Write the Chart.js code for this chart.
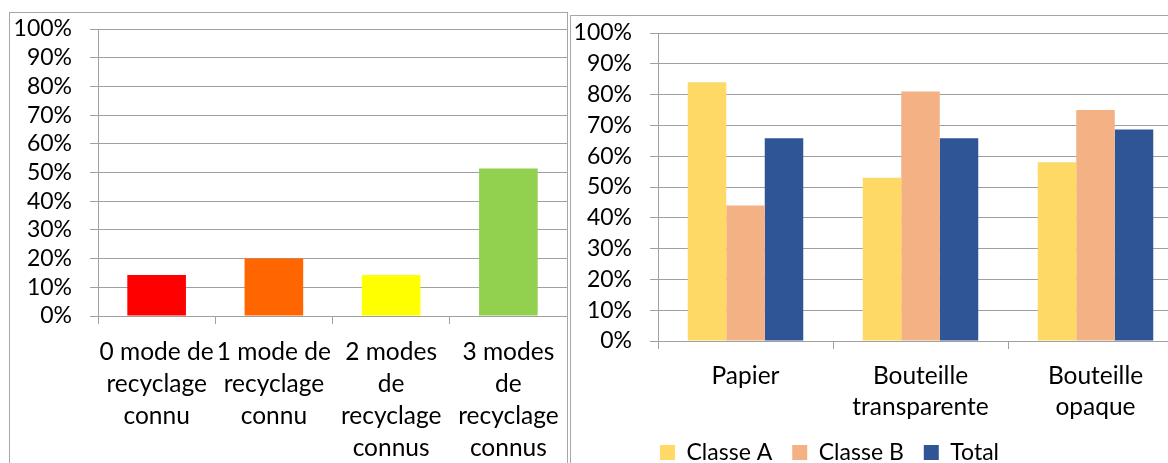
<!DOCTYPE html>
<html>
<head>
<meta charset="utf-8">
<script src="https://cdn.jsdelivr.net/npm/chart.js@4.4.1/dist/chart.umd.min.js"></script>
<style>
    body { margin: 0; background: #fff; overflow: hidden; width: 1168px; height: 463px; position: relative; }
    .box { position: absolute; border: 1px solid #a6a6a6; background: #fff; }
    #leftBox { left: 9px; top: 12px; }
    #rightBox { left: 570px; top: 15px; }
    canvas { display: block; }
</style>
</head>
<body>
<div class="box" id="leftBox"><canvas id="modesChart" width="557" height="470"></canvas></div>
<div class="box" id="rightBox"><canvas id="typesChart" width="612" height="458"></canvas></div>
<script>
// Left chart: number of recycling modes known
const modeLabels = [
    ['0 mode de', 'recyclage', 'connu'],
    ['1 mode de', 'recyclage', 'connu'],
    ['2 modes', 'de', 'recyclage', 'connus'],
    ['3 modes', 'de', 'recyclage', 'connus']
];
const modeValues = [14.3, 20, 14.3, 51.4];
const modeColors = ['#ff0000', '#ff6600', '#ffff00', '#92d050'];

// Right chart: by waste type and class
const typeLabels = [['Papier'], ['Bouteille', 'transparente'], ['Bouteille', 'opaque']];
const classeA = [84, 53, 58];
const classeB = [44, 81, 75];
const total = [65.8, 65.8, 68.7];

const FONT = 'Lato';
const gridColor = '#a0a0a0';

function percentAxis(width) {
    return {
        min: 0,
        max: 100,
        afterFit: function(scale) {
            scale.width = width;
            // let layout.padding decide where the plot starts
            scale.paddingTop = 0;
            scale.paddingBottom = 0;
        },
        ticks: {
            stepSize: 10,
            autoSkip: false,
            padding: 18,
            color: '#000',
            font: { family: FONT, size: 23 },
            callback: function(v) { return v + '%'; }
        },
        grid: { color: gridColor, tickLength: 8, lineWidth: 1 },
        border: { color: gridColor }
    };
}

function categoryAxis(height, lineH) {
    return {
        afterFit: function(scale) {
            scale.height = height;
            scale.paddingLeft = 0;
            scale.paddingRight = 0;
        },
        ticks: {
            autoSkip: false,
            maxRotation: 0,
            padding: 12,
            color: '#000',
            font: { family: FONT, size: 24.5, lineHeight: lineH / 24.5 }
        },
        grid: { drawOnChartArea: false, color: gridColor, tickLength: 8, offset: true },
        border: { color: gridColor }
    };
}

// Shift the legend so it sits where the original one is
const legendShift = {
    id: 'legendShift',
    afterLayout: function(chart) {
        const dx = chart.options.plugins.legendShift.dx;
        chart.legend.left += dx;
        chart.legend.right += dx;
    }
};

document.addEventListener('DOMContentLoaded', function() {
    new Chart(document.getElementById('modesChart'), {
        type: 'bar',
        data: {
            labels: modeLabels,
            datasets: [{
                data: modeValues,
                backgroundColor: modeColors,
                categoryPercentage: 0.5,
                barPercentage: 1
            }]
        },
        options: {
            responsive: false,
            animation: false,
            layout: { padding: { top: 16, left: 0, right: 0, bottom: 0 } },
            plugins: { legend: { display: false }, tooltip: { enabled: false } },
            scales: {
                x: categoryAxis(470 - 303, 32),
                y: percentAxis(88)
            }
        }
    });

    new Chart(document.getElementById('typesChart'), {
        type: 'bar',
        data: {
            labels: typeLabels,
            datasets: [
                { label: 'Classe A', data: classeA, backgroundColor: '#ffd966' },
                { label: 'Classe B', data: classeB, backgroundColor: '#f4b183' },
                { label: 'Total', data: total, backgroundColor: '#2f5597' }
            ]
        },
        options: {
            responsive: false,
            animation: false,
            datasets: { bar: { categoryPercentage: 0.66, barPercentage: 1 } },
            layout: { padding: { top: 17, left: 0, right: 0, bottom: 0 } },
            plugins: {
                tooltip: { enabled: false },
                legendShift: { dx: 69 },
                legend: {
                    position: 'bottom',
                    align: 'start',
                    labels: {
                        boxWidth: 15,
                        boxHeight: 15,
                        padding: 20,
                        color: '#000',
                        font: { family: FONT, size: 23 }
                    }
                }
            },
            scales: {
                x: categoryAxis(80, 31),
                y: percentAxis(87)
            }
        },
        plugins: [legendShift]
    });
});
</script>
</body>
</html>
